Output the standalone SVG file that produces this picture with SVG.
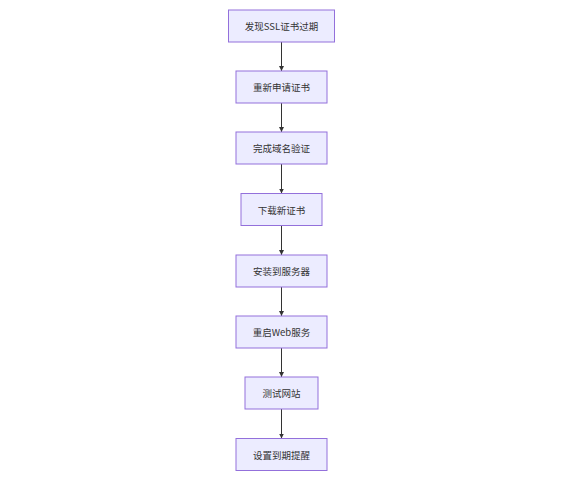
<svg xmlns="http://www.w3.org/2000/svg" width="561" height="492" viewBox="0 0 561 492">
<style>
.node rect{fill:#ECECFF;stroke:#9370DB;stroke-width:1}
.node text{font-family:"Noto Sans CJK SC","Liberation Sans",sans-serif;font-size:9.5px;fill:#333;text-anchor:middle;dominant-baseline:central}
.edge{stroke:#333;stroke-width:1;fill:none;marker-end:url(#arrow)}
</style>
<defs>
<marker id="arrow" viewBox="0 0 10 10" refX="10" refY="5" markerWidth="5" markerHeight="5" orient="auto" markerUnits="userSpaceOnUse">
<path d="M0,0 L10,5 L0,10 z" fill="#333"/>
</marker>
</defs>
<rect width="561" height="492" fill="#fff"/>
<g id="edges">
<line class="edge" x1="281.5" y1="42" x2="281.5" y2="71"/>
<line class="edge" x1="281.5" y1="103" x2="281.5" y2="132"/>
<line class="edge" x1="281.5" y1="164" x2="281.5" y2="193.5"/>
<line class="edge" x1="281.5" y1="225.5" x2="281.5" y2="255"/>
<line class="edge" x1="281.5" y1="287" x2="281.5" y2="316"/>
<line class="edge" x1="281.5" y1="348" x2="281.5" y2="377"/>
<line class="edge" x1="281.5" y1="409" x2="281.5" y2="438.5"/>
</g>
<g id="n1" class="node"><rect x="228.5" y="10" width="106" height="32"/><text x="281.5" y="26">发现SSL证书过期</text></g>
<g id="n2" class="node"><rect x="236" y="71" width="91" height="32"/><text x="281.5" y="87">重新申请证书</text></g>
<g id="n3" class="node"><rect x="236" y="132" width="91" height="32"/><text x="281.5" y="148">完成域名验证</text></g>
<g id="n4" class="node"><rect x="241" y="193.5" width="81" height="32"/><text x="281.5" y="209.5">下载新证书</text></g>
<g id="n5" class="node"><rect x="236" y="255" width="91" height="32"/><text x="281.5" y="271">安装到服务器</text></g>
<g id="n6" class="node"><rect x="236" y="316" width="91" height="32"/><text x="281.5" y="332">重启Web服务</text></g>
<g id="n7" class="node"><rect x="245" y="377" width="73" height="32"/><text x="281.5" y="393">测试网站</text></g>
<g id="n8" class="node"><rect x="236" y="438.5" width="91" height="32"/><text x="281.5" y="454.5">设置到期提醒</text></g>
</svg>
